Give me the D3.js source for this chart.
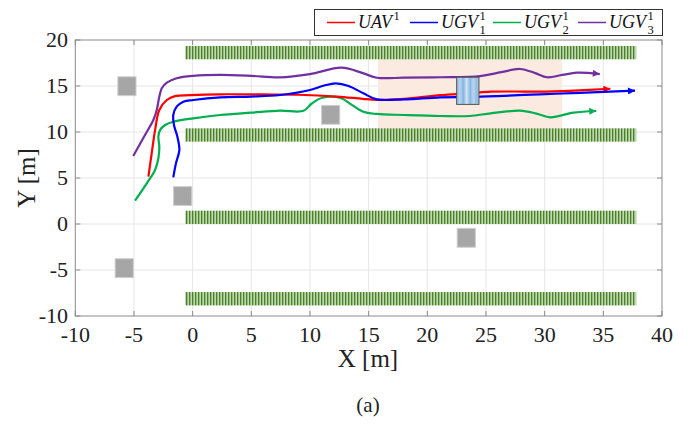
<!DOCTYPE html>
<html><head><meta charset="utf-8">
<script src="https://cdn.jsdelivr.net/npm/d3@7"></script>
<style>body{margin:0;background:#fff}svg{display:block}</style>
</head><body>
<script>
// ---- data ----
const xTicks = [-10,-5,0,5,10,15,20,25,30,35,40];
const yTicks = [-10,-5,0,5,10,15,20];
const seriesNames = ["UAV","UGV1","UGV2","UGV3"];
const seriesColors = ["#ff0000","#0000ff","#00b050","#7030a0"];
const uavX  = [-3.77,-3.49,-3.2,-2.84,-2.2,-1.5,-0.22,2.34,6,9,12.3,14.5,15.7,18,21.1,23.6,25.4,27.5,29.6,32.5,35.6];
const uavY  = [5.14,7.68,10.2,12.4,13.48,13.9,14.0,14.1,14.08,14.05,13.85,13.6,13.5,13.6,14.0,14.2,14.38,14.4,14.38,14.5,14.7];
const ugv1X = [-1.65,-1.42,-1.13,-1.3,-1.59,-1.65,-1.36,-0.79,0.06,2.34,5,7.45,10.0,11.2,12.2,13.3,14.55,15.7,18,21.1,23.6,26,29.6,33,37.7];
const ugv1Y = [5.07,6.6,8.04,9.49,10.76,11.85,12.75,13.3,13.48,13.77,13.85,14.02,14.57,15.05,15.29,15.0,14.2,13.55,13.55,13.77,13.8,13.9,14.1,14.25,14.49];
const ugv2X = [-4.91,-3.91,-3.2,-2.92,-2.84,-2.92,-2.78,-2.35,-1.65,0.06,2.34,5,7.45,9.45,10.15,11.0,12.6,13.5,14.55,15.7,18,21.1,23.6,25.4,27.9,29.3,30.5,32.45,34.4];
const ugv2Y = [2.54,4.42,5.87,7.14,8.4,9.49,10.2,10.76,11.12,11.49,11.85,12.1,12.32,12.3,13.1,13.7,13.7,13.0,12.2,11.96,11.85,11.74,11.74,12.03,12.32,12.0,11.6,12.1,12.28];
const ugv3X = [-5.06,-4.06,-3.35,-3.06,-2.84,-2.63,-2.2,-1.36,0.06,2.34,5,7.45,10,12.7,14.5,15.7,18,21.1,24.5,26.3,27.9,29.2,30.2,31.5,32.75,34.7];
const ugv3Y = [7.39,9.67,11.3,12.4,13.84,14.75,15.36,15.84,16.1,16.2,16.1,15.94,16.3,16.99,16.4,15.9,15.9,15.95,16.08,16.5,16.85,16.4,15.95,16.2,16.45,16.3];
// hedges (x0,x1,y0,y1)
const hedgeX0 = [-0.65,-0.65,-0.65,-0.65];
const hedgeX1 = [37.8,37.8,37.8,37.8];
const hedgeY0 = [17.9,8.95,0,-8.85];
const hedgeY1 = [19.35,10.4,1.45,-7.4];
// obstacles (centers)
const obsX = [-5.6,-0.85,-5.83,11.76,23.32];
const obsY = [14.98,3.04,-4.8,11.87,-1.5];
const obsW = 1.55, obsH = 2.05;
// shaded region
const regionX = [15.8,31.5], regionY = [10.4,17.9];
// blue block
const blockX = [22.5,24.4], blockY = [13.0,15.95];

// ---- drawing ----
const W = 699, H = 426;
const svg = d3.select("body").append("svg").attr("width",W).attr("height",H);
const x = d3.scaleLinear().domain([-10,40]).range([75.3,662]);
const y = d3.scaleLinear().domain([-10,20]).range([316,40]);
const defs = svg.append("defs");

const hp = defs.append("pattern").attr("id","hedge").attr("patternUnits","userSpaceOnUse")
  .attr("width",3).attr("height",20);
hp.append("rect").attr("width",3).attr("height",20).attr("fill","#c6dab8");
hp.append("rect").attr("x",0).attr("width",1.1).attr("height",20).attr("fill","#4a8228");
hp.append("rect").attr("x",1.1).attr("width",1).attr("height",20).attr("fill","#93b87c");

const bg = defs.append("linearGradient").attr("id","blockg").attr("x1","0").attr("x2","1").attr("y1","0").attr("y2","0");
[["0","#8db8e2"],["0.15","#b8d4ef"],["0.3","#86b3df"],["0.45","#d2e4f6"],["0.6","#8ab6e1"],["0.75","#b9d5ef"],["0.9","#92bce4"],["1","#a6c8ea"]]
  .forEach(s=>bg.append("stop").attr("offset",s[0]).attr("stop-color",s[1]));

seriesColors.forEach((c,i)=>{
  defs.append("marker").attr("id","arr"+i).attr("viewBox","0 0 10 10")
    .attr("refX",10).attr("refY",5).attr("markerWidth",10).attr("markerHeight",7)
    .attr("markerUnits","userSpaceOnUse").attr("orient","auto")
    .append("path").attr("d","M0,0 L10,5 L0,10 Z").attr("fill",c);
});

const g = svg.append("g");
// grid
g.selectAll(".gx").data(xTicks.slice(1,-1)).enter().append("line")
  .attr("x1",d=>x(d)).attr("x2",d=>x(d)).attr("y1",y(-10)).attr("y2",y(20))
  .attr("stroke","#e6e6e6").attr("stroke-width",1);
g.selectAll(".gy").data(yTicks.slice(1,-1)).enter().append("line")
  .attr("y1",d=>y(d)).attr("y2",d=>y(d)).attr("x1",x(-10)).attr("x2",x(40))
  .attr("stroke","#e6e6e6").attr("stroke-width",1);

// shaded region
g.append("rect").attr("x",x(regionX[0])).attr("y",y(regionY[1]))
  .attr("width",x(regionX[1])-x(regionX[0])).attr("height",y(regionY[0])-y(regionY[1]))
  .attr("fill","#fbeadf");

// hedges
g.selectAll(".hedge").data(d3.range(hedgeX0.length)).enter().append("rect")
  .attr("x",i=>x(hedgeX0[i])).attr("y",i=>y(hedgeY1[i]))
  .attr("width",i=>x(hedgeX1[i])-x(hedgeX0[i])).attr("height",i=>y(hedgeY0[i])-y(hedgeY1[i]))
  .attr("fill","url(#hedge)");

// obstacles
g.selectAll(".obs").data(d3.range(obsX.length)).enter().append("rect")
  .attr("x",i=>x(obsX[i]-obsW/2)).attr("y",i=>y(obsY[i]+obsH/2))
  .attr("width",x(obsW)-x(0)).attr("height",y(0)-y(obsH))
  .attr("fill","#a6a6a6").attr("stroke","#cfcfcf").attr("stroke-width",1);

// trajectories
const allX = [uavX,ugv1X,ugv2X,ugv3X], allY = [uavY,ugv1Y,ugv2Y,ugv3Y];
const line = d3.line().x(d=>x(d[0])).y(d=>y(d[1])).curve(d3.curveCatmullRom.alpha(0.5));
[2,3,0,1].forEach(i=>{
  const pts = allX[i].map((v,k)=>[v,allY[i][k]]);
  g.append("path").attr("d",line(pts)).attr("fill","none")
    .attr("stroke",seriesColors[i]).attr("stroke-width",2.2)
    .attr("marker-end","url(#arr"+i+")");
});

// blue block
g.append("rect").attr("x",x(blockX[0])).attr("y",y(blockY[1]))
  .attr("width",x(blockX[1])-x(blockX[0])).attr("height",y(blockY[0])-y(blockY[1]))
  .attr("fill","url(#blockg)").attr("stroke","#555").attr("stroke-width",1);

// axes frame and ticks
const axc = "#8a8a8a";
svg.append("rect").attr("x",x(-10)).attr("y",y(20)).attr("width",x(40)-x(-10)).attr("height",y(-10)-y(20))
  .attr("fill","none").attr("stroke",axc).attr("stroke-width",1);
const tl = 5;
xTicks.forEach(t=>{
  svg.append("line").attr("x1",x(t)).attr("x2",x(t)).attr("y1",y(-10)).attr("y2",y(-10)-tl).attr("stroke",axc);
  svg.append("line").attr("x1",x(t)).attr("x2",x(t)).attr("y1",y(20)).attr("y2",y(20)+tl).attr("stroke",axc);
});
yTicks.forEach(t=>{
  svg.append("line").attr("y1",y(t)).attr("y2",y(t)).attr("x1",x(-10)).attr("x2",x(-10)+tl).attr("stroke",axc);
  svg.append("line").attr("y1",y(t)).attr("y2",y(t)).attr("x1",x(40)).attr("x2",x(40)-tl).attr("stroke",axc);
});
const font = "Liberation Serif, serif";
svg.selectAll(".xt").data(xTicks).enter().append("text")
  .attr("x",d=>x(d)).attr("y",342).attr("text-anchor","middle")
  .style("font-family",font).style("font-size","22px").attr("fill","#222").text(d=>d);
svg.selectAll(".yt").data(yTicks).enter().append("text")
  .attr("x",68).attr("y",d=>y(d)+7).attr("text-anchor","end")
  .style("font-family",font).style("font-size","22px").attr("fill","#222").text(d=>d);
svg.append("text").attr("x",368).attr("y",367).attr("text-anchor","middle")
  .style("font-family",font).style("font-size","25px").attr("fill","#222").text("X [m]");
svg.append("text").attr("transform","translate(35,178) rotate(-90)").attr("text-anchor","middle")
  .style("font-family",font).style("font-size","25px").attr("fill","#222").text("Y [m]");
svg.append("text").attr("x",368).attr("y",412).attr("text-anchor","middle")
  .style("font-family",font).style("font-size","21px").attr("fill","#222").text("(a)");

// legend
const lg = svg.append("g");
lg.append("rect").attr("x",314.5).attr("y",9.5).attr("width",348).attr("height",26)
  .attr("fill","#fff").attr("stroke","#333").attr("stroke-width",1);
const legX = [327,410,493,578];
const subs = ["","1","2","3"];
const bases = ["UAV","UGV","UGV","UGV"];
seriesColors.forEach((c,i)=>{
  lg.append("line").attr("x1",legX[i]).attr("x2",legX[i]+28).attr("y1",22.5).attr("y2",22.5)
    .attr("stroke",c).attr("stroke-width",1.5);
  const t = lg.append("text").attr("x",legX[i]+31).attr("y",28)
    .style("font-family",font).style("font-style","italic").style("font-size","18px").attr("fill","#111")
    .text(bases[i]);
  const bw = t.node().getComputedTextLength();
  lg.append("text").attr("x",legX[i]+31+bw+1.5).attr("y",20)
    .style("font-family",font).style("font-size","12.5px").attr("fill","#111").text("1");
  if (subs[i]) {
    lg.append("text").attr("x",legX[i]+31+bw+1.5).attr("y",34)
      .style("font-family",font).style("font-size","12.5px").attr("fill","#111").text(subs[i]);
  }
});
</script>
</body></html>
